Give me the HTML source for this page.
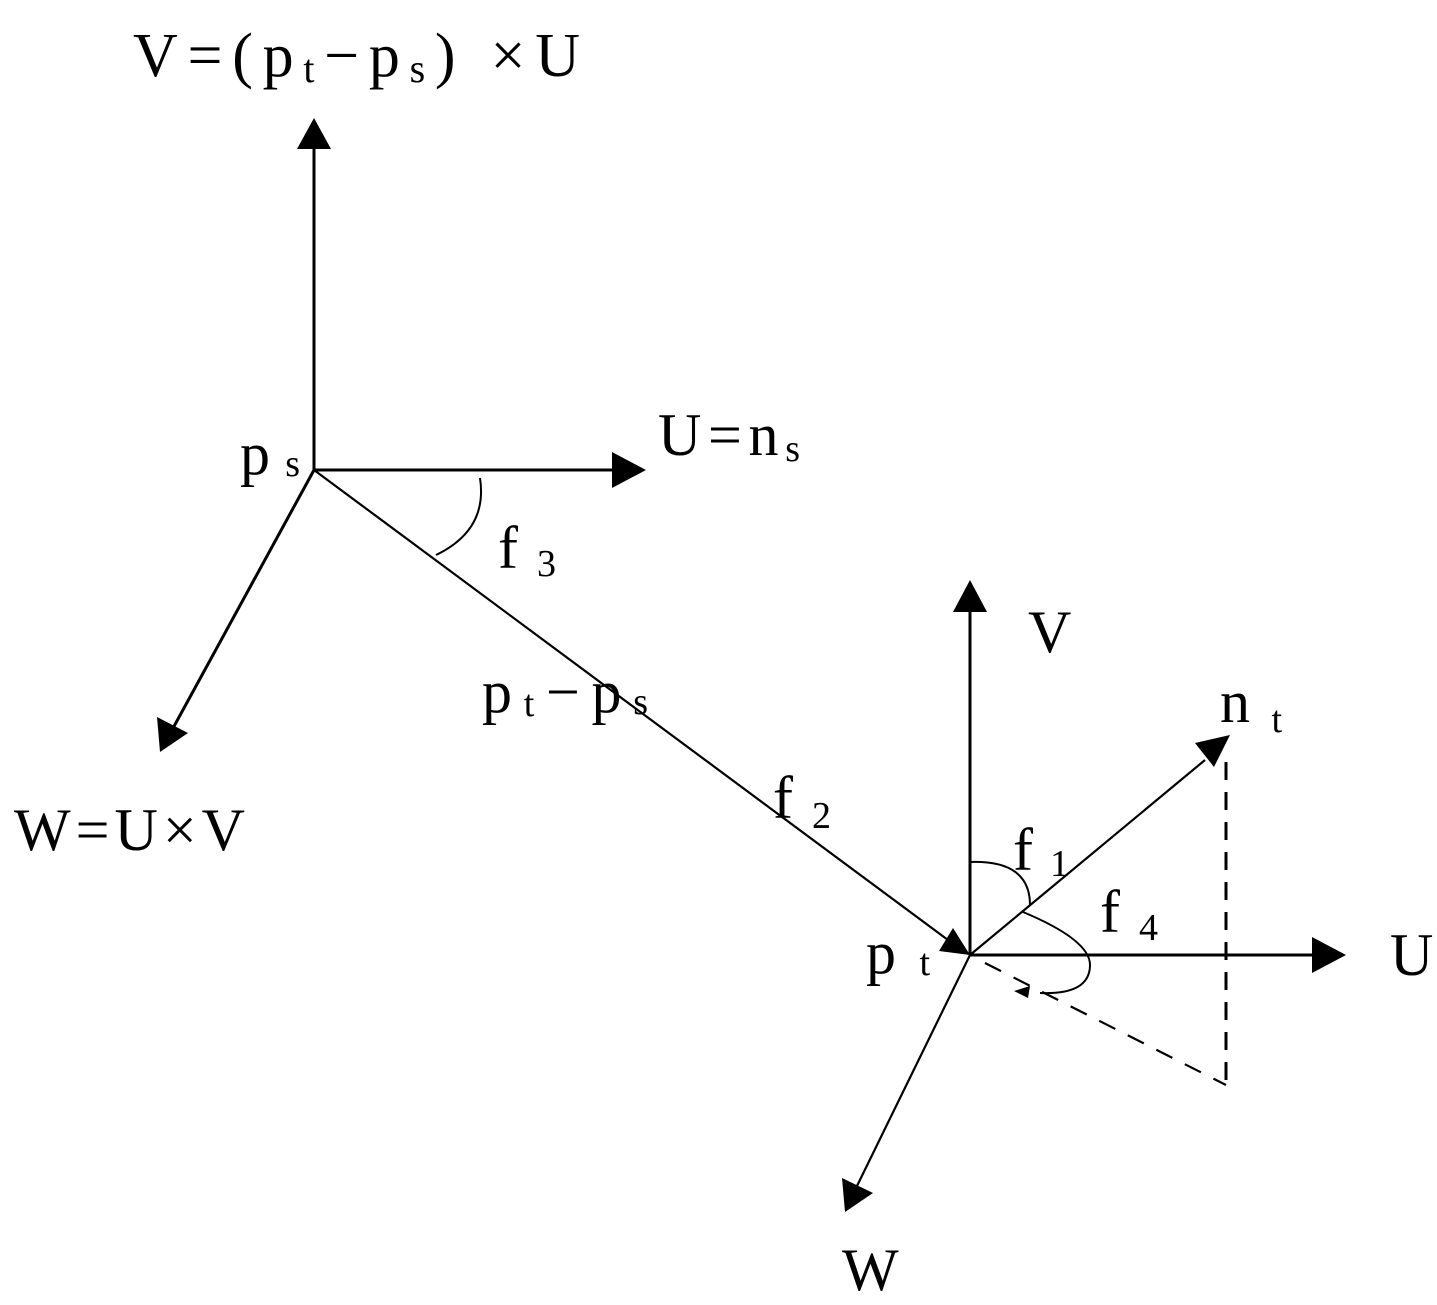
<!DOCTYPE html>
<html><head><style>
html,body{margin:0;padding:0;background:#fff;}
svg{display:block;}
text{font-family:"Liberation Serif","Noto Serif CJK SC",serif;fill:#000;}
</style></head><body>
<svg width="1437" height="1305" viewBox="0 0 1437 1305" xmlns="http://www.w3.org/2000/svg">
<g stroke="#000" stroke-width="3" fill="none">
<line x1="314" y1="470" x2="314" y2="145"/>
<line x1="314" y1="470" x2="615" y2="470"/>
<line x1="314" y1="470" x2="172" y2="730"/>
<line x1="314" y1="470" x2="948" y2="940" stroke-width="2.2"/>
<line x1="970" y1="955" x2="970" y2="610"/>
<line x1="970" y1="955" x2="1315" y2="955"/>
<line x1="970" y1="955" x2="856" y2="1188" stroke-width="2.2"/>
<line x1="970" y1="955" x2="1205" y2="760" stroke-width="2.2"/>
<line x1="1226" y1="762" x2="1226" y2="1085" stroke-dasharray="18,12"/>
<line x1="985" y1="963" x2="1226" y2="1085" stroke-dasharray="18,14" stroke-width="2.2"/>
<path d="M480 478 Q488 530 436 555" stroke-width="2"/>
<path d="M970 862 Q1030 860 1030 905" stroke-width="2"/>
<path d="M1023 912 Q1090 940 1090 965 Q1090 995 1040 993" stroke-width="2"/>
</g>
<g fill="#000">
<polygon points="314,118 297,149 331,149"/>
<polygon points="646,470 612,452 612,488"/>
<polygon points="160,752 157,717 188,733"/>
<polygon points="970,955 939,951 953,928"/>
<polygon points="970,580 953,612 987,612"/>
<polygon points="1346,955 1312,937 1312,973"/>
<polygon points="845,1212 842,1178 873,1193"/>
<polygon points="1230,735 1195,743 1214,767"/>
<polygon points="1014,991 1030,986 1028,998"/>
</g>
<text x="133" y="76" font-size="62" textLength="447" lengthAdjust="spacing">V=(p<tspan font-size="40" dy="6">t</tspan><tspan dy="-6">−p</tspan><tspan font-size="40" dy="6">s</tspan><tspan dy="-6">) ×U</tspan></text>
<text x="240" y="474" font-size="60" textLength="60" lengthAdjust="spacing">p<tspan font-size="38" dy="2">s</tspan></text>
<text x="658" y="455" font-size="60" textLength="142" lengthAdjust="spacing">U=n<tspan font-size="38" dy="6">s</tspan></text>
<text x="498" y="568" font-size="60" textLength="58" lengthAdjust="spacing">f<tspan font-size="38" dy="8">3</tspan></text>
<text x="482" y="712" font-size="60" textLength="166" lengthAdjust="spacing">p<tspan font-size="38" dy="4">t</tspan><tspan dy="-4">−p</tspan><tspan font-size="38" dy="2">s</tspan></text>
<text x="773" y="818" font-size="60" textLength="58" lengthAdjust="spacing">f<tspan font-size="38" dy="10">2</tspan></text>
<text x="14" y="850" font-size="60" textLength="231" lengthAdjust="spacing">W=U×V</text>
<text x="1028" y="652" font-size="60">V</text>
<text x="1220" y="722" font-size="60" textLength="62" lengthAdjust="spacing">n<tspan font-size="38" dy="10">t</tspan></text>
<text x="1013" y="870" font-size="60" textLength="56" lengthAdjust="spacing">f<tspan font-size="38" dy="6">1</tspan></text>
<text x="1100" y="932" font-size="60" textLength="58" lengthAdjust="spacing">f<tspan font-size="38" dy="8">4</tspan></text>
<text x="866" y="973" font-size="60" textLength="64" lengthAdjust="spacing">p<tspan font-size="38" dy="2">t</tspan></text>
<text x="1390" y="975" font-size="60">U</text>
<text x="842" y="1290" font-size="60">W</text>
</svg>
</body></html>
